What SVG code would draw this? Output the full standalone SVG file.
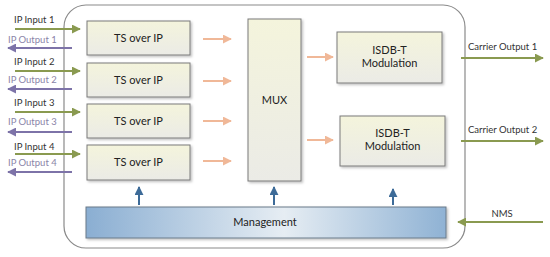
<svg xmlns="http://www.w3.org/2000/svg" width="550" height="257" viewBox="0 0 550 257">
<defs>
<linearGradient id="boxg" x1="0" y1="0" x2="0" y2="1"><stop offset="0" stop-color="#f4f4dc"/><stop offset="1" stop-color="#ebebe6"/></linearGradient>
<linearGradient id="mgmt" x1="0" y1="0" x2="1" y2="0"><stop offset="0" stop-color="#8aaed2"/><stop offset="0.55" stop-color="#e6edf3"/><stop offset="1" stop-color="#8fb2d4"/></linearGradient>
<filter id="sh" x="-10%" y="-10%" width="130%" height="140%"><feDropShadow dx="1.5" dy="1.5" stdDeviation="1" flood-color="#000" flood-opacity="0.25"/></filter>
<marker id="mg" viewBox="0 0 10 10" refX="9" refY="5" markerWidth="4.5" markerHeight="4.5" orient="auto" markerUnits="strokeWidth"><path d="M0,0L10,5L0,10z" fill="#8a9a50"/></marker>
<marker id="mp" viewBox="0 0 10 10" refX="9" refY="5" markerWidth="4.5" markerHeight="4.5" orient="auto" markerUnits="strokeWidth"><path d="M0,0L10,5L0,10z" fill="#7d73a8"/></marker>
<marker id="mo" viewBox="0 0 10 10" refX="9" refY="5" markerWidth="4.5" markerHeight="4.5" orient="auto" markerUnits="strokeWidth"><path d="M0,0L10,5L0,10z" fill="#f0b898"/></marker>
<marker id="mb" viewBox="0 0 10 10" refX="9" refY="5" markerWidth="4.5" markerHeight="4.5" orient="auto" markerUnits="strokeWidth"><path d="M0,0L10,5L0,10z" fill="#3d6b98"/></marker>
</defs>
<style>
.box{fill:url(#boxg);stroke:#7a7a7a;stroke-width:1;filter:url(#sh)}
.t{font-family:Lato,"Liberation Sans",sans-serif;font-size:11px;fill:#222;text-anchor:middle}
.l{font-family:Lato,"Liberation Sans",sans-serif;font-size:9.5px;fill:#333}
.lp{font-family:Lato,"Liberation Sans",sans-serif;font-size:9.5px;fill:#8a84a8}
.g{stroke:#8a9a50;stroke-width:2;fill:none;marker-end:url(#mg)}
.p{stroke:#7d73a8;stroke-width:2;fill:none;marker-end:url(#mp)}
.o{stroke:#f0b898;stroke-width:2;fill:none;marker-end:url(#mo)}
.b{stroke:#3d6b98;stroke-width:2;fill:none;marker-end:url(#mb)}
</style>
<rect width="550" height="257" fill="#fff"/>
<g id="frame"><rect x="64" y="5" width="401" height="243" rx="22" ry="22" fill="#fff" stroke="#8a8a8a" stroke-width="1.2"/></g>
<g id="ts1"><rect class="box" x="87" y="21" width="103" height="34"/><text class="t" x="138.5" y="42">TS over IP</text></g>
<g id="ts2"><rect class="box" x="87" y="63" width="103" height="34"/><text class="t" x="138.5" y="84">TS over IP</text></g>
<g id="ts3"><rect class="box" x="87" y="104" width="103" height="34"/><text class="t" x="138.5" y="125">TS over IP</text></g>
<g id="ts4"><rect class="box" x="87" y="145" width="103" height="35"/><text class="t" x="138.5" y="166">TS over IP</text></g>
<g id="mux"><rect class="box" x="248" y="19" width="53" height="162"/><text class="t" x="274.5" y="104">MUX</text></g>
<g id="mod1"><rect class="box" x="337" y="32" width="105" height="51"/><text class="t" x="389.5" y="54">ISDB-T</text><text class="t" x="389.5" y="67">Modulation</text></g>
<g id="mod2"><rect class="box" x="340" y="116" width="105" height="50"/><text class="t" x="392.5" y="137">ISDB-T</text><text class="t" x="392.5" y="150">Modulation</text></g>
<g id="mgmt-node"><rect x="86" y="207" width="360" height="31" fill="url(#mgmt)" stroke="#6a7a8a" stroke-width="1" filter="url(#sh)"/><text class="t" x="265" y="226">Management</text></g>
<g id="labels">
<text class="l" x="14" y="23">IP Input 1</text>
<text class="lp" x="8" y="43">IP Output 1</text>
<text class="l" x="14" y="65">IP Input 2</text>
<text class="lp" x="8" y="83">IP Output 2</text>
<text class="l" x="14" y="106">IP Input 3</text>
<text class="lp" x="8" y="125">IP Output 3</text>
<text class="l" x="14" y="150">IP Input 4</text>
<text class="lp" x="8" y="166">IP Output 4</text>
<text class="l" x="468" y="50">Carrier Output 1</text>
<text class="l" x="468" y="133">Carrier Output 2</text>
<text class="l" x="502" y="217" text-anchor="middle">NMS</text>
</g>
<g id="connectors">
<line class="g" x1="15" y1="29" x2="80" y2="29"/>
<line class="p" x1="72" y1="48" x2="8" y2="48"/>
<line class="g" x1="15" y1="71" x2="80" y2="71"/>
<line class="p" x1="72" y1="89" x2="8" y2="89"/>
<line class="g" x1="15" y1="112" x2="80" y2="112"/>
<line class="p" x1="72" y1="132" x2="8" y2="132"/>
<line class="g" x1="15" y1="154" x2="80" y2="154"/>
<line class="p" x1="72" y1="172" x2="8" y2="172"/>
<line class="o" x1="203" y1="39" x2="231" y2="39"/>
<line class="o" x1="203" y1="81" x2="231" y2="81"/>
<line class="o" x1="203" y1="121" x2="231" y2="121"/>
<line class="o" x1="203" y1="161" x2="231" y2="161"/>
<line class="o" x1="307" y1="57" x2="333" y2="57"/>
<line class="o" x1="307" y1="140" x2="333" y2="140"/>
<line class="g" x1="461" y1="58" x2="543" y2="58"/>
<line class="g" x1="461" y1="141" x2="543" y2="141"/>
<line class="g" x1="543" y1="222" x2="458" y2="222"/>
<line class="b" x1="139" y1="205" x2="139" y2="187"/>
<line class="b" x1="274" y1="205" x2="274" y2="187"/>
<line class="b" x1="393" y1="205" x2="393" y2="189"/>
</g>
</svg>
